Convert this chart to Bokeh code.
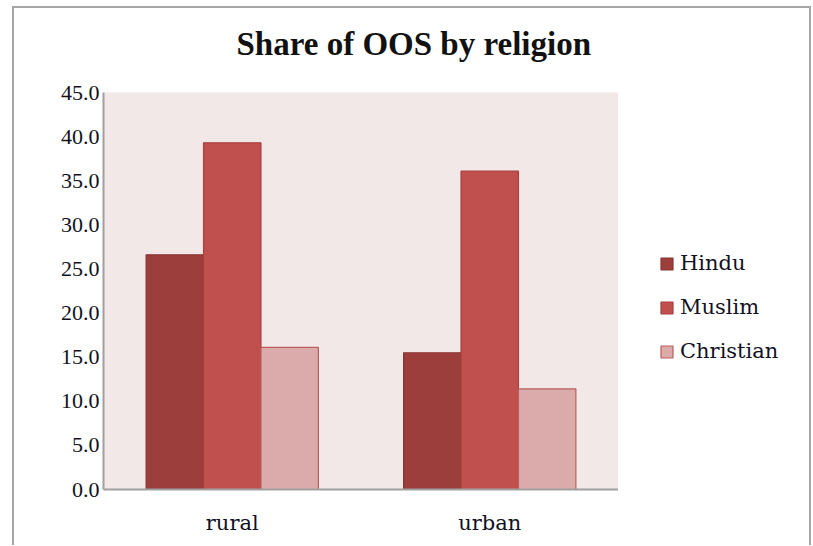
from bokeh.plotting import figure
from bokeh.layouts import row
from bokeh.models import FactorRange, FixedTicker, PrintfTickFormatter, Legend, LegendItem, Range1d, Title
from bokeh.transform import dodge
from bokeh.embed import file_html
from bokeh.resources import INLINE

areas = ["rural", "urban"]
religions = ["Hindu", "Muslim", "Christian"]
hindu = [26.6, 15.5]
muslim = [39.3, 36.1]
christian = [16.1, 11.4]
y_ticks = [0, 5, 10, 15, 20, 25, 30, 35, 40, 45]

fills = ["#9c3e3c", "#c0504d", "#dbaaaa"]
lines = ["#8a3533", "#a8403e", "#b8605e"]
FONT = "DejaVu Serif"
FONT2 = "Liberation Serif"

data = dict(area=areas, Hindu=hindu, Muslim=muslim, Christian=christian)
w = 0.223
offsets = [-w, 0, w]

p = figure(x_range=FactorRange(*areas, range_padding=0), y_range=Range1d(0, 45),
           frame_width=515, frame_height=397, output_backend="svg", toolbar_location=None,
           min_border_left=89, min_border_top=83, min_border_bottom=56, min_border_right=0)
p.title_location = None
p.background_fill_color = "#f2e8e8"
p.border_fill_color = "white"
p.outline_line_color = None
p.xgrid.grid_line_color = None
p.ygrid.grid_line_color = None

for i, rel in enumerate(religions):
    p.vbar(x=dodge("area", offsets[i], range=p.x_range), top=rel, width=w, source=data,
           fill_color=fills[i], line_color=lines[i], line_width=1.2)

# spacer next to the frame, then the real title above it
p.add_layout(Title(text=" ", text_font_size="1px", standoff=12), "above")
p.add_layout(Title(text="Share of OOS by religion", text_font=FONT2, text_font_size="33px",
                   text_font_style="bold", align="left", offset=133, text_color="#111111",
                   standoff=31), "above")

for ax in (p.xaxis[0], p.yaxis[0]):
    ax.axis_line_color = "#a0a0a0"
    ax.axis_line_width = 2
    ax.major_tick_line_color = None
    ax.minor_tick_line_color = None
    ax.major_tick_out = 0
    ax.major_tick_in = 0
    ax.minor_tick_out = 0
    ax.major_label_text_color = "#111122"

p.yaxis[0].ticker = FixedTicker(ticks=y_ticks)
p.yaxis[0].formatter = PrintfTickFormatter(format="%.1f")
p.yaxis[0].major_label_standoff = 4
p.yaxis[0].major_label_text_font = FONT2
p.yaxis[0].major_label_text_font_size = "22px"
p.xaxis[0].major_label_standoff = 21
p.xaxis[0].major_label_text_font = FONT
p.xaxis[0].major_label_text_font_size = "21px"

# legend panel: its renderers are hidden, only the legend swatches are drawn
pl = figure(width=191, height=536, min_border=0, output_backend="svg", toolbar_location=None,
            x_range=FactorRange(*areas), y_range=Range1d(100, 101),
            x_axis_location=None, y_axis_location=None)
pl.title_location = None
pl.outline_line_color = None
pl.xgrid.grid_line_color = None
pl.ygrid.grid_line_color = None
pl.background_fill_color = "white"
pl.border_fill_color = "white"
items = []
for i, rel in enumerate(religions):
    r = pl.vbar(x=dodge("area", offsets[i], range=pl.x_range), top=rel, bottom=rel, width=w,
                source=data, fill_color=fills[i], line_color=lines[i], line_width=1.2)
    r.visible = False
    items.append(LegendItem(label=rel, renderers=[r]))

legend = Legend(items=items, location=(41, 125), orientation="vertical", border_line_color=None,
                background_fill_alpha=0, padding=0, margin=0, spacing=20,
                glyph_width=15, glyph_height=15, label_height=20, label_standoff=6,
                label_text_font=FONT, label_text_font_size="21px", label_text_color="#111122")
pl.add_layout(legend, "center")

page = row(p, pl, styles={"border-left": "2px solid #a6a6a6", "border-top": "2px solid #a6a6a6",
                          "border-right": "2px solid #a6a6a6", "margin-left": "12px",
                          "margin-top": "6px", "background": "white"})

open("out.html", "w").write(file_html(page, INLINE))
